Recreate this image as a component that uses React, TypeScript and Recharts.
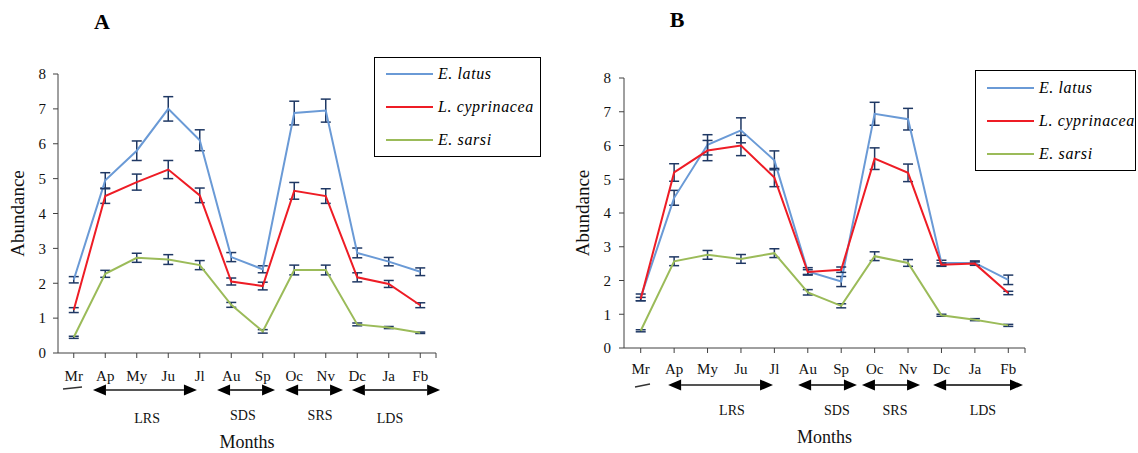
import React from "react";
import { LineChart, Line, XAxis, YAxis, ErrorBar, Legend, Label } from "recharts";

const months = ["Mr", "Ap", "My", "Ju", "Jl", "Au", "Sp", "Oc", "Nv", "Dc", "Ja", "Fb"];
const yTicks = [0, 1, 2, 3, 4, 5, 6, 7, 8];
const seriesNames = ["E. latus", "L. cyprinacea", "E. sarsi"];
const seasons = ["LRS", "SDS", "SRS", "LDS"];

// panel A
const latusA = [2.1, 4.95, 5.8, 7.0, 6.1, 2.75, 2.4, 6.88, 6.95, 2.87, 2.62, 2.33];
const latusErrA = [0.09, 0.22, 0.28, 0.35, 0.3, 0.13, 0.1, 0.34, 0.33, 0.14, 0.12, 0.11];
const cyprA = [1.23, 4.5, 4.9, 5.26, 4.52, 2.05, 1.92, 4.65, 4.5, 2.17, 1.98, 1.37];
const cyprErrA = [0.07, 0.21, 0.23, 0.26, 0.21, 0.1, 0.11, 0.24, 0.21, 0.13, 0.1, 0.07];
const sarsiA = [0.45, 2.27, 2.73, 2.68, 2.52, 1.38, 0.62, 2.38, 2.38, 0.82, 0.73, 0.58];
const sarsiErrA = [0.03, 0.1, 0.13, 0.14, 0.13, 0.07, 0.05, 0.14, 0.14, 0.04, 0.03, 0.02];

// panel B
const latusB = [1.5, 4.45, 6.02, 6.45, 5.56, 2.27, 1.97, 6.94, 6.78, 2.52, 2.52, 2.02];
const latusErrB = [0.1, 0.22, 0.3, 0.37, 0.28, 0.11, 0.15, 0.34, 0.32, 0.08, 0.06, 0.14];
const cyprB = [1.45, 5.2, 5.85, 6.0, 5.05, 2.25, 2.32, 5.61, 5.19, 2.47, 2.5, 1.63];
const cyprErrB = [0.05, 0.26, 0.3, 0.3, 0.27, 0.07, 0.08, 0.32, 0.26, 0.05, 0.05, 0.05];
const sarsiB = [0.51, 2.57, 2.76, 2.64, 2.81, 1.65, 1.25, 2.72, 2.52, 0.97, 0.84, 0.67];
const sarsiErrB = [0.03, 0.13, 0.13, 0.13, 0.13, 0.08, 0.06, 0.13, 0.1, 0.03, 0.03, 0.03];

// season arrows, in category units (0 = Mr centre)
const arrowsA = [[0.61, 3.91], [4.55, 6.39], [6.71, 8.55], [8.83, 11.63]];
const seasonPosA = [2.33, 5.37, 7.82, 10.04];
const arrowsB = [[0.82, 3.96], [4.71, 6.47], [6.62, 8.36], [8.75, 11.44]];
const seasonPosB = [2.73, 5.87, 7.61, 10.24];

const COLORS = ["#6A9AD6", "#EE1C25", "#9BBB59"];
const ERR = "#1F3864";
const FONT = '"Liberation Serif", serif';

const build = (a: number[], ae: number[], b: number[], be: number[], c: number[], ce: number[]) =>
  months.map((m, i) => ({ month: m, latus: a[i], latusErr: ae[i], cypr: b[i], cyprErr: be[i], sarsi: c[i], sarsiErr: ce[i] }));

const dataA = build(latusA, latusErrA, cyprA, cyprErrA, sarsiA, sarsiErrA);
const dataB = build(latusB, latusErrB, cyprB, cyprErrB, sarsiB, sarsiErrB);

const txt = { fontFamily: FONT, fill: "#111" };

const XTick = ({ x, y, payload }: any) => (
  <text x={x} y={y} dy="0.71em" textAnchor="middle" fontSize={15} style={txt}>
    {payload.value}
  </text>
);

const YTick = ({ x, y, payload }: any) => (
  <text x={x} y={y} dy="0.35em" textAnchor="end" fontSize={15} style={txt}>
    {payload.value}
  </text>
);

const LegendBox = ({ payload, w, h }: any) => (
  <div style={{ width: w, height: h, border: "1.5px solid #000", boxSizing: "border-box", background: "#fff", fontFamily: FONT }}>
    {(payload || []).map((p: any) => (
      <div key={p.value} style={{ display: "flex", alignItems: "center", height: (h - 2) / 3, paddingLeft: 11, whiteSpace: "nowrap" }}>
        <svg width={47} height={4} style={{ marginRight: 5, flex: "none" }}>
          <line x1={0} y1={2} x2={47} y2={2} stroke={p.color} strokeWidth={2} />
        </svg>
        <span style={{ fontStyle: "italic", fontSize: 16, color: "#000", fontFamily: FONT, letterSpacing: 0.6 }}>{p.value}</span>
      </div>
    ))}
  </div>
);

interface PanelProps {
  data: any[];
  title: string;
  left: number;
  width: number;
  plot: { x0: number; x1: number; y0: number; y1: number };
  legend: { x: number; y: number; w: number; h: number };
  titleX: number;
  titleY: number;
  arrows: number[][];
  seasonPos: number[];
  arrowY: number;
  seasonY: number[];
  dash: number[];
  tickGap: number;
  yGap: number;
  yLabelX: number;
  monthsY: number;
}

const H = 453;

const Panel = (p: PanelProps) => {
  const x0 = p.plot.x0 - p.left;
  const x1 = p.plot.x1 - p.left;
  const bw = (x1 - x0) / months.length;
  const cx = (c: number) => x0 + bw * (c + 0.5);
  const head = 13;
  const hh = 5.5;
  return (
    <div style={{ position: "absolute", left: p.left, top: 0, width: p.width, height: H, fontFamily: FONT }}>
      <LineChart
        width={p.width}
        height={H}
        data={p.data}
        margin={{ top: p.plot.y0, right: p.width - x1, bottom: 0, left: x0 - 58 }}
      >
        <XAxis
          dataKey="month"
          height={H - p.plot.y1}
          padding={{ left: bw / 2, right: bw / 2 }}
          stroke="#404040"
          tickSize={5}
          tickMargin={p.tickGap}
          tick={<XTick />}
        >
          <Label
            content={({ viewBox }: any) => (
              <text x={viewBox.x + viewBox.width / 2} y={p.monthsY} dy="0.35em" textAnchor="middle" fontSize={18} style={txt}>
                Months
              </text>
            )}
          />
        </XAxis>
        <YAxis width={58} domain={[0, 8]} ticks={yTicks} stroke="#404040" tickSize={5} tickMargin={p.yGap} tick={<YTick />}>
          <Label
            content={({ viewBox }: any) => {
              const cy = viewBox.y + viewBox.height / 2;
              return (
                <text x={p.yLabelX} y={cy} dy="0.33em" textAnchor="middle" fontSize={19} style={txt} transform={`rotate(-90 ${p.yLabelX} ${cy})`}>
                  Abundance
                </text>
              );
            }}
          />
        </YAxis>
        <Legend
          layout="horizontal"
          verticalAlign="middle"
          align="center"
          itemSorter={(item: any) => seriesNames.indexOf(item.value)}
          wrapperStyle={{ left: p.legend.x - p.left, top: p.legend.y, width: p.legend.w, height: p.legend.h }}
          content={(props: any) => <LegendBox payload={props.payload} w={p.legend.w} h={p.legend.h} />}
        />
        <Line dataKey="latus" name={seriesNames[0]} stroke={COLORS[0]} strokeWidth={2} dot={false} isAnimationActive={false}>
          <ErrorBar dataKey="latusErr" direction="y" width={5} stroke={ERR} strokeWidth={1.5} />
        </Line>
        <Line dataKey="cypr" name={seriesNames[1]} stroke={COLORS[1]} strokeWidth={2} dot={false} isAnimationActive={false}>
          <ErrorBar dataKey="cyprErr" direction="y" width={5} stroke={ERR} strokeWidth={1.5} />
        </Line>
        <Line dataKey="sarsi" name={seriesNames[2]} stroke={COLORS[2]} strokeWidth={2} dot={false} isAnimationActive={false}>
          <ErrorBar dataKey="sarsiErr" direction="y" width={5} stroke={ERR} strokeWidth={1.5} />
        </Line>
      </LineChart>
      <svg width={p.width} height={H} style={{ position: "absolute", left: 0, top: 0, pointerEvents: "none", fontFamily: FONT }}>
        <text x={p.titleX - p.left} y={p.titleY} fontSize={22} fontWeight="bold" textAnchor="middle" fill="#000">
          {p.title}
        </text>
        {/* closing tick at the right end of the x axis */}
        <line x1={x1} y1={p.plot.y1} x2={x1} y2={p.plot.y1 + 5} stroke="#404040" strokeWidth={1} />
        <line x1={p.dash[0] - p.left} y1={p.dash[1]} x2={p.dash[2] - p.left} y2={p.dash[3]} stroke="#333" strokeWidth={1.5} />
        {p.arrows.map(([a, b], i) => {
          const xa = cx(a);
          const xb = cx(b);
          const y = p.arrowY;
          return (
            <g key={i}>
              <line x1={xa + head} y1={y} x2={xb - head} y2={y} stroke={i === 0 ? "#555" : "#000"} strokeWidth={i === 0 ? 2 : 1.5} />
              <polygon points={`${xa},${y} ${xa + head},${y - hh} ${xa + head},${y + hh}`} fill="#000" />
              <polygon points={`${xb},${y} ${xb - head},${y - hh} ${xb - head},${y + hh}`} fill="#000" />
            </g>
          );
        })}
        {seasons.map((s, i) => (
          <text key={s} x={cx(p.seasonPos[i])} y={p.seasonY[i]} dy="0.35em" fontSize={14} textAnchor="middle" fill="#111">
            {s}
          </text>
        ))}
      </svg>
    </div>
  );
};

export default function App() {
  return (
    <div style={{ position: "absolute", left: 0, top: 0, width: 1138, height: H, background: "#fff", fontFamily: FONT }}>
      <Panel
        data={dataA}
        title="A"
        left={0}
        width={560}
        plot={{ x0: 58, x1: 436, y0: 74, y1: 353 }}
        legend={{ x: 374, y: 57, w: 167, h: 100 }}
        titleX={102}
        titleY={29}
        arrows={arrowsA}
        seasonPos={seasonPosA}
        arrowY={390}
        seasonY={[418, 415, 415, 418]}
        dash={[63, 389, 82, 387]}
        tickGap={12}
        yGap={7}
        yLabelX={18}
        monthsY={442}
      />
      <Panel
        data={dataB}
        title="B"
        left={566}
        width={572}
        plot={{ x0: 624, x1: 1025, y0: 78, y1: 348 }}
        legend={{ x: 975, y: 70, w: 161, h: 101 }}
        titleX={677}
        titleY={27}
        arrows={arrowsB}
        seasonPos={seasonPosB}
        arrowY={385}
        seasonY={[410, 410, 410, 410]}
        dash={[635, 387, 650, 384]}
        tickGap={10}
        yGap={8}
        yLabelX={17}
        monthsY={437}
      />
    </div>
  );
}
